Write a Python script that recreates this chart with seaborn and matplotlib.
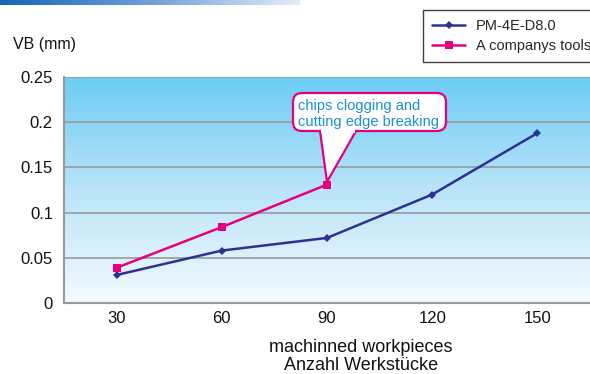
import numpy as np
import pandas as pd
import matplotlib
matplotlib.use("Agg")
import matplotlib.pyplot as plt
import seaborn as sns
from matplotlib.colors import LinearSegmentedColormap
from matplotlib.patches import FancyBboxPatch, Polygon

categories = ["30", "60", "90", "120", "150"]
pm_values = [0.031, 0.058, 0.072, 0.120, 0.188]
a_values = [0.039, 0.084, 0.131]
series_names = ["PM-4E-D8.0", "A companys tools"]
yticks = [0, 0.05, 0.1, 0.15, 0.2, 0.25]
ytick_labels = ["0", "0.05", "0.1", "0.15", "0.2", "0.25"]
note_text = "chips clogging and\ncutting edge breaking"

sns.set_style("white")
plt.rcParams["font.family"] = ["Liberation Sans", "DejaVu Sans"]

df = pd.concat([
    pd.DataFrame({"x": categories, "y": pm_values, "s": series_names[0]}),
    pd.DataFrame({"x": categories[:len(a_values)], "y": a_values, "s": series_names[1]}),
])

W, H = 590, 374
fig = plt.figure(figsize=(5.9, 3.74), dpi=100)
ax = fig.add_axes([64/W, 71/H, 526/W, 226/H])

# top-left decorative gradient bar
bar_ax = fig.add_axes([0, 1 - 5/H, 300/W, 5/H])
bar_cmap = LinearSegmentedColormap.from_list("bar", ["#1565b5", "#6f9fd8", "#e4ecf8"])
bar_ax.imshow(np.linspace(0, 1, 256)[None, :], aspect="auto", cmap=bar_cmap, extent=[0, 1, 0, 1])
bar_ax.axis("off")

# background gradient
bg_cmap = LinearSegmentedColormap.from_list("bg", ["#f4faff", "#b9e4f9", "#6ccdf5"])
ax.imshow(np.linspace(0, 1, 256)[:, None], aspect="auto", cmap=bg_cmap, origin="lower",
          extent=[0, 1, 0, 1], transform=ax.transAxes, zorder=0)

palette = {series_names[0]: "#2e3192", series_names[1]: "#e6007e"}
markers = {series_names[0]: "D", series_names[1]: "s"}
sns.lineplot(data=df, x="x", y="y", hue="s", style="s", palette=palette, markers=markers,
             dashes=False, ax=ax, linewidth=1.8, markersize=6, markeredgewidth=0,
             sort=False, legend=True, zorder=3)
for line in ax.lines:
    if line.get_marker() == "D":
        line.set_markersize(4.5)

ax.set_xlim(-0.5, 4.5)
ax.set_ylim(0, 0.25)
ax.set_yticks(yticks)
ax.set_yticklabels(ytick_labels)
ax.set_xticks(range(len(categories)))
ax.set_xticklabels(categories)
ax.set_xticks(np.arange(0.5, 4.5, 1), minor=True)
ax.tick_params(axis="x", which="minor", direction="in", length=9, color="#999999", width=1)
ax.tick_params(axis="x", which="major", length=0, pad=6, labelsize=12, colors="#111111")
ax.tick_params(axis="y", length=0, pad=8, labelsize=12, colors="#111111")
ax.set_xlabel("")
ax.set_ylabel("")
for yv in yticks[1:]:
    ax.axhline(yv, color="#9a9a9a", lw=1.2, zorder=1)
for side in ["top", "right"]:
    ax.spines[side].set_visible(False)
for side in ["left", "bottom"]:
    ax.spines[side].set_color("#999999")
    ax.spines[side].set_linewidth(1.5)

leg = ax.legend(loc="upper left", bbox_to_anchor=(423/W, 1 - 10/H), bbox_transform=fig.transFigure,
                frameon=True, fancybox=False, edgecolor="#111111", fontsize=10.5,
                handlelength=2.3, borderpad=0.6, labelspacing=0.45, handletextpad=0.7,
                borderaxespad=0)
leg.get_frame().set_linewidth(1.0)
leg.set_title(None)

# callout (pixel layout converted to data coordinates)
def px2data(px, py):
    return ax.transData.inverted().transform(fig.transFigure.transform((px / W, 1 - py / H)))

bx0, by0 = px2data(293, 131)
bx1, by1 = px2data(446, 93)
aspect = (0.25 / 226) / (5 / 526)
box = FancyBboxPatch((bx0, by0), bx1 - bx0, by1 - by0,
                     boxstyle="round,pad=0,rounding_size=0.085", mutation_aspect=aspect,
                     fc="white", ec="#e6007e", lw=1.6, zorder=5)
ax.add_patch(box)
tipx, tipy = 2, a_values[2] + 0.003
blx, bly = px2data(320, 131)
brx, bry = px2data(356, 131)
tri = Polygon([(blx, bly), (tipx, tipy), (brx, bry)], closed=True, facecolor="white",
              edgecolor="#e6007e", lw=1.6, zorder=6, joinstyle="miter", fill=True)
ax.add_patch(tri)
ax.plot([blx + 0.012, brx - 0.012], [bly, bry], color="white", lw=2.8, zorder=7,
        solid_capstyle="butt")
tx, ty = px2data(298, 114)
ax.text(tx, ty, note_text, ha="left", va="center", fontsize=10.5, color="#1b8fd0",
        linespacing=1.1, zorder=8)

fig.text(13/W, 1 - 44/H, "VB (mm)", fontsize=11.5, va="center", ha="left", color="#111111")
fig.text(361/W, 1 - 347/H, "machinned workpieces", fontsize=13, ha="center", va="center", color="#111111")
fig.text(361/W, 1 - 366/H, "Anzahl Werkstücke", fontsize=13, ha="center", va="center", color="#111111")

fig.savefig("out.png", dpi=100)
